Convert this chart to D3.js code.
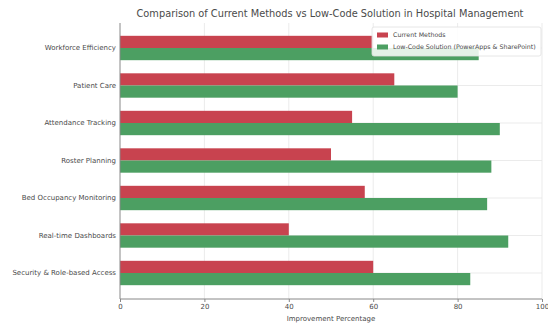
<!DOCTYPE html>
<html>
<head>
<meta charset="utf-8">
<script src="https://cdn.jsdelivr.net/npm/d3@7"></script>
<style>
  html, body { margin: 0; padding: 0; background: #fff; }
  svg { display: block; font-family: "DejaVu Sans", sans-serif; }
</style>
</head>
<body>
<svg id="chart" width="548" height="326"></svg>
<script>
// Hospital management tasks and improvement percentages per approach
const categories = [
  "Workforce Efficiency",
  "Patient Care",
  "Attendance Tracking",
  "Roster Planning",
  "Bed Occupancy Monitoring",
  "Real-time Dashboards",
  "Security & Role-based Access"
];
const currentMethods = [60, 65, 55, 50, 58, 40, 60];
const lowCodeSolution = [85, 80, 90, 88, 87, 92, 83];
const seriesNames = ["Current Methods", "Low-Code Solution (PowerApps & SharePoint)"];
const xTicks = [0, 20, 40, 60, 80, 100];

const colors = ["#c8434f", "#4c9f62"];
const textColor = "#4a4a4a";

const svg = d3.select("#chart");
const plot = { left: 120, right: 542, top: 23, bottom: 299 };

const x = d3.scaleLinear().domain([0, 100]).range([plot.left, plot.right]);
const y = d3.scaleBand()
  .domain(categories)
  .range([plot.top + 6.25, plot.bottom - 7.25])
  .paddingInner(0.35)
  .paddingOuter(0.175);
const sub = d3.scaleBand().domain([0, 1]).range([0, y.bandwidth()]);

// faint grid
const grid = svg.append("g").attr("stroke", "#e6e6e6").attr("stroke-width", 0.8);
grid.selectAll("line.v").data(xTicks.slice(1)).join("line")
  .attr("x1", d => x(d)).attr("x2", d => x(d))
  .attr("y1", plot.top).attr("y2", plot.bottom);
grid.selectAll("line.h").data(categories).join("line")
  .attr("x1", plot.left).attr("x2", plot.right)
  .attr("y1", d => y(d) + y.bandwidth() / 2).attr("y2", d => y(d) + y.bandwidth() / 2);

// bars
const series = [currentMethods, lowCodeSolution];
series.forEach((vals, si) => {
  svg.append("g").selectAll("rect").data(categories).join("rect")
    .attr("x", x(0))
    .attr("y", (c) => y(c) + sub(si))
    .attr("width", (c, i) => x(vals[i]) - x(0))
    .attr("height", sub.bandwidth())
    .attr("fill", colors[si]);
});

// axes
const xAxis = svg.append("g")
  .attr("transform", `translate(0,${plot.bottom})`)
  .call(d3.axisBottom(x).tickValues(xTicks).tickSize(3).tickPadding(2));
const yAxis = svg.append("g")
  .attr("transform", `translate(${plot.left},0)`)
  .call(d3.axisLeft(y).tickSize(0).tickPadding(4));
[xAxis, yAxis].forEach(a => {
  a.select(".domain").attr("stroke", "#888");
  a.selectAll(".tick line").attr("stroke", "#888");
  a.selectAll("text").attr("fill", textColor).attr("font-size", 7)
    .attr("font-family", "DejaVu Sans, sans-serif");
});
yAxis.select(".domain").attr("d", `M0,${plot.top}V${plot.bottom}`);
xAxis.select(".domain").attr("d", `M${plot.left},0H${plot.right}`);

// title and axis label
svg.append("text")
  .attr("x", 330).attr("y", 17)
  .attr("text-anchor", "middle")
  .attr("font-size", 9.8)
  .attr("fill", textColor)
  .text("Comparison of Current Methods vs Low-Code Solution in Hospital Management");
svg.append("text")
  .attr("x", 331).attr("y", 321)
  .attr("text-anchor", "middle")
  .attr("font-size", 7)
  .attr("fill", textColor)
  .text("Improvement Percentage");

// legend
const legend = svg.append("g").attr("transform", "translate(372,27)");
legend.append("rect")
  .attr("width", 169).attr("height", 29).attr("rx", 2)
  .attr("fill", "#fff").attr("fill-opacity", 0.85)
  .attr("stroke", "#e0e0e0").attr("stroke-width", 0.8);
seriesNames.forEach((name, i) => {
  const row = legend.append("g").attr("transform", `translate(5,${8 + i * 12})`);
  row.append("rect").attr("x", 0).attr("y", -2.5).attr("width", 11).attr("height", 5)
    .attr("fill", colors[i]);
  row.append("text").attr("x", 16).attr("y", 2.3)
    .attr("font-size", 6.3).attr("fill", textColor).text(name);
});
</script>
</body>
</html>
